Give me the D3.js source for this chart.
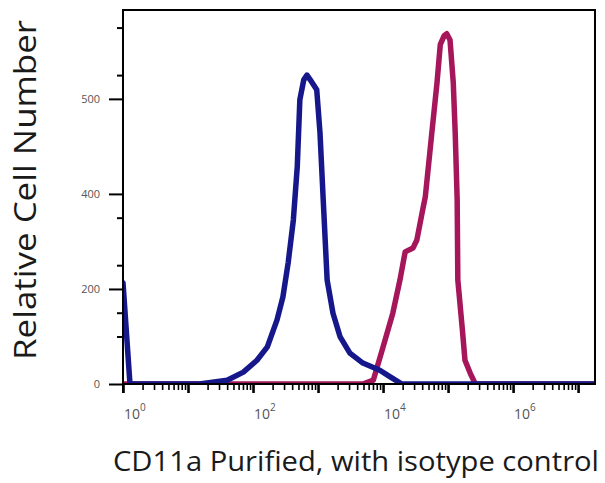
<!DOCTYPE html>
<html>
<head>
<meta charset="utf-8">
<script src="https://cdn.jsdelivr.net/npm/d3@7/dist/d3.min.js"></script>
<style>
body{margin:0;background:#fff;}
svg text{font-family:"Open Sans",sans-serif;}
</style>
</head>
<body>
<div id="chart"></div>
<script>
// isotype control (blue) - fluorescence vs relative cell number
var isoX = [1, 1.28, 15, 40, 71, 115, 166, 234, 288, 347, 417, 479, 525, 603, 676, 759, 955, 1072, 1202, 1380, 1698, 2188, 3090, 4898, 8913, 12882, 19498, 18000000];
var isoY = [213, 0, 0, 8, 25, 50, 78, 135, 183, 255, 345, 457, 598, 640, 650, 640, 619, 528, 387, 219, 149, 99, 65, 44, 29, 15, 0, 0];

// CD11a purified (magenta)
var cd11aX = [1, 4898, 7079, 10000, 14125, 18197, 21878, 28840, 33113, 39811, 44668, 56234, 67608, 75858, 87096, 95499, 107152, 120226, 128825, 138038, 141254, 165959, 181970, 218776, 263027, 18000000];
var cd11aY = [0, 0, 8, 78, 149, 219, 278, 286, 303, 360, 394, 528, 634, 714, 733, 737, 724, 634, 528, 387, 219, 114, 50, 23, 0, 0];

var yTickValues = [0, 200, 400, 600];
var yTickLabels = ["0", "200", "400", "500"];
var yMinorTicks = [100, 150, 250, 350, 650, 750];
var xLabelValues = [1, 100, 10000, 1000000];
var xLabelExp = ["0", "2", "4", "6"];
var yTitle = "Relative Cell Number";
var xTitle = "CD11a Purified, with isotype control";

function drawChart()
{
  var W = 605, H = 483;
  var mLeft = 123, mRight = 595, mTop = 10, mBottom = 384;

  var svg = d3.select("#chart").append("svg")
    .attr("width", W).attr("height", H);

  var x = d3.scaleLog().domain([1, 18197009]).range([mLeft, mRight]);
  var y = d3.scaleLinear().domain([0, 787]).range([mBottom, mTop]);

  svg.append("clipPath").attr("id", "plotclip")
    .append("rect")
    .attr("x", mLeft - 1).attr("y", mTop)
    .attr("width", mRight - mLeft + 1).attr("height", mBottom - mTop);

  var line = d3.line()
    .x(function(d){ return x(d[0]); })
    .y(function(d){ return y(d[1]); });

  var plot = svg.append("g").attr("clip-path", "url(#plotclip)");

  plot.append("path")
    .datum(d3.zip(cd11aX, cd11aY))
    .attr("d", line)
    .attr("style", "fill:none;stroke:#a5165a;stroke-width:5.5;stroke-linejoin:round;stroke-linecap:round");

  plot.append("path")
    .datum(d3.zip(isoX, isoY))
    .attr("d", line)
    .attr("style", "fill:none;stroke:#17178c;stroke-width:5.5;stroke-linejoin:round;stroke-linecap:round");

  // log ticks for the x axis
  var decades = [], minors = [];
  for (var p = 0; p <= 7; p++) {
    decades.push(Math.pow(10, p));
    for (var k = 2; k <= 9; k++) {
      var v = k * Math.pow(10, p);
      if (v < x.domain()[1]) minors.push(v);
    }
  }

  // frame
  svg.append("rect")
    .attr("x", mLeft).attr("y", mTop)
    .attr("width", mRight - mLeft).attr("height", mBottom - mTop)
    .attr("style", "fill:none;stroke:#000;stroke-width:2");

  // x axis ticks
  svg.append("g")
    .attr("transform", "translate(0," + mBottom + ")")
    .call(d3.axisBottom(x).tickValues(minors).tickSize(6).tickSizeOuter(0).tickFormat(""))
    .call(function(g){ g.select(".domain").remove(); g.selectAll("line").attr("stroke-width", 1.6); });

  svg.append("g")
    .attr("transform", "translate(0," + mBottom + ")")
    .call(d3.axisBottom(x).tickValues(decades).tickSize(9).tickSizeOuter(0).tickFormat(""))
    .call(function(g){ g.select(".domain").remove(); g.selectAll("line").attr("stroke-width", 2.6); });

  // x tick labels
  var xl = svg.append("g").selectAll("text")
    .data(xLabelValues).enter().append("text")
    .attr("x", function(d){ return x(d) + 1; })
    .attr("y", 419)
    .attr("style", "font-size:14px;fill:#555");
  xl.append("tspan").text("10");
  xl.append("tspan")
    .attr("dy", -8)
    .attr("style", "font-size:10px")
    .text(function(d, i){ return xLabelExp[i]; });

  // y axis ticks
  svg.append("g")
    .attr("transform", "translate(" + mLeft + ",0)")
    .call(d3.axisLeft(y).tickValues(yMinorTicks).tickSize(6).tickSizeOuter(0).tickFormat(""))
    .call(function(g){ g.select(".domain").remove(); g.selectAll("line").attr("stroke-width", 2); });

  svg.append("g")
    .attr("transform", "translate(" + mLeft + ",0)")
    .call(d3.axisLeft(y).tickValues(yTickValues).tickSize(14).tickPadding(9).tickSizeOuter(0)
      .tickFormat(function(d, i){ return yTickLabels[i]; }))
    .call(function(g){
      g.select(".domain").remove();
      g.selectAll("line").attr("stroke-width", 2);
      g.selectAll("text").attr("style", "font-size:11px;fill:#555;font-family:'Open Sans',sans-serif");
    });

  // left axis line extends a bit below the baseline
  svg.append("line")
    .attr("x1", mLeft).attr("x2", mLeft)
    .attr("y1", mTop).attr("y2", mBottom + 9)
    .attr("style", "stroke:#000;stroke-width:2");

  // titles
  svg.append("text")
    .attr("transform", "translate(36,190) rotate(-90)")
    .attr("text-anchor", "middle")
    .attr("textLength", 340)
    .attr("lengthAdjust", "spacingAndGlyphs")
    .attr("style", "font-size:31px;fill:#1a1a1a")
    .text(yTitle);

  svg.append("text")
    .attr("x", 356)
    .attr("y", 471)
    .attr("text-anchor", "middle")
    .attr("textLength", 486)
    .attr("lengthAdjust", "spacingAndGlyphs")
    .attr("style", "font-size:27px;fill:#1a1a1a")
    .text(xTitle);
}
drawChart();
</script>
</body>
</html>
